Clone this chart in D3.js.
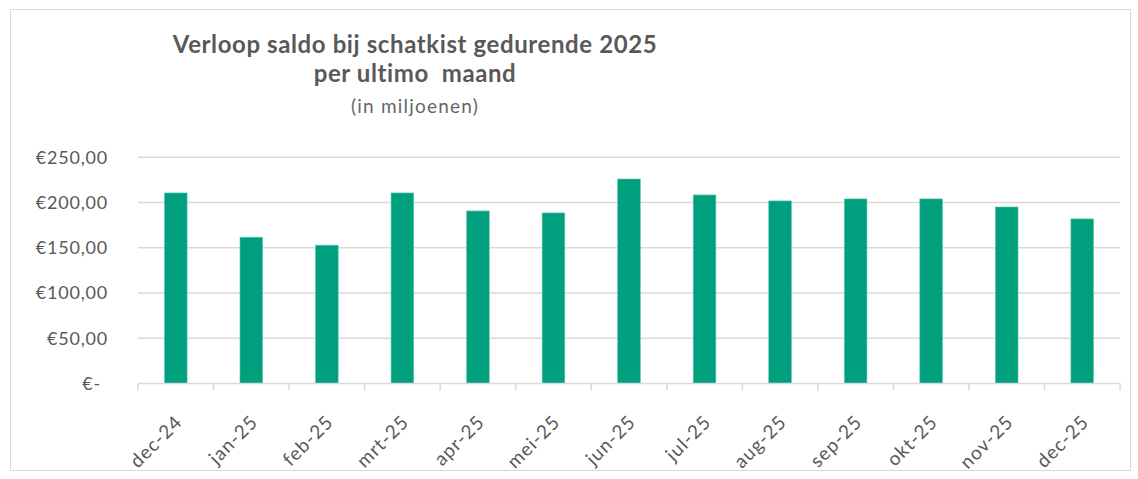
<!DOCTYPE html>
<html>
<head>
<meta charset="utf-8">
<script src="https://cdn.jsdelivr.net/npm/d3@7"></script>
<style>
  body { margin: 0; background: #fff; }
  svg text { font-family: Lato, "Open Sans", sans-serif; fill: #595959; white-space: pre; }
</style>
</head>
<body>
<svg id="chart" width="1138" height="479"></svg>
<script>
// maanden (categorieen)
var months = ["dec-24", "jan-25", "feb-25", "mrt-25", "apr-25", "mei-25", "jun-25",
              "jul-25", "aug-25", "sep-25", "okt-25", "nov-25", "dec-25"];
// saldo per ultimo maand, in miljoenen
var saldo = [210.6, 161.7, 152.9, 210.6, 190.7, 188.5, 226.0,
             208.4, 201.8, 204.0, 204.0, 195.1, 181.9];
var yTicks = [0, 50, 100, 150, 200, 250];
var titleLines = ["Verloop saldo bij schatkist gedurende 2025", "per ultimo  maand"];
var subTitle = "(in miljoenen)";

var data = months.map(function(m, i) { return { month: m, value: saldo[i] }; });

var svg = d3.select("#chart");
var gridColor = "#d9d9d9";
var barColor = "#00a07f";

// kader rond de grafiek
svg.append("rect")
  .attr("x", 10.5).attr("y", 9.5)
  .attr("width", 1120).attr("height", 461)
  .attr("fill", "#fff")
  .attr("stroke", gridColor);

var plotLeft = 138, plotRight = 1120, plotTop = 157.3, plotBottom = 383.5;

var x = d3.scaleBand()
  .domain(months)
  .range([plotLeft, plotRight])
  .paddingInner(0.7)
  .paddingOuter(0.35);

var y = d3.scaleLinear()
  .domain([0, 250])
  .range([plotBottom, plotTop]);

var nl = d3.formatLocale({ decimal: ",", thousands: ".", grouping: [3], currency: ["€", ""] });
var fmt = nl.format("$,.2f");

// gridlines
svg.append("g").selectAll("line")
  .data(yTicks.filter(function(d) { return d > 0; }))
  .enter().append("line")
  .attr("x1", plotLeft).attr("x2", plotRight)
  .attr("y1", function(d) { return y(d); })
  .attr("y2", function(d) { return y(d); })
  .attr("stroke", gridColor)
  .attr("stroke-width", 1.5);

// y labels
svg.append("g").selectAll("text")
  .data(yTicks)
  .enter().append("text")
  .attr("x", function(d) { return d === 0 ? 101 : 108; })
  .attr("y", function(d) { return y(d); })
  .attr("dy", "0.35em")
  .attr("text-anchor", "end")
  .style("font-size", "18px")
  .style("letter-spacing", "0.8px")
  .text(function(d) { return d === 0 ? "€-" : fmt(d); });

// bars
svg.append("g").selectAll("rect")
  .data(data)
  .enter().append("rect")
  .attr("x", function(d) { return x(d.month); })
  .attr("y", function(d) { return y(d.value); })
  .attr("width", x.bandwidth())
  .attr("height", function(d) { return y(0) - y(d.value); })
  .attr("fill", barColor)
  .attr("stroke", "#5fc8b0")
  .attr("stroke-width", 0.6);

// x axis line + ticks at band boundaries
var step = x.step();
var axis = svg.append("g");
axis.append("line")
  .attr("x1", plotLeft).attr("x2", plotRight)
  .attr("y1", plotBottom).attr("y2", plotBottom)
  .attr("stroke", gridColor)
  .attr("stroke-width", 1.5);
axis.selectAll("line.tick")
  .data(d3.range(months.length + 1))
  .enter().append("line")
  .attr("class", "tick")
  .attr("x1", function(i) { return plotLeft + i * step; })
  .attr("x2", function(i) { return plotLeft + i * step; })
  .attr("y1", plotBottom).attr("y2", plotBottom + 7)
  .attr("stroke", gridColor)
  .attr("stroke-width", 1.5);

// x labels, 45 graden gedraaid
axis.selectAll("text")
  .data(months)
  .enter().append("text")
  .attr("transform", function(d) {
    return "translate(" + (x(d) + x.bandwidth() / 2 + 3) + "," + (plotBottom + 35) + ") rotate(-45)";
  })
  .attr("text-anchor", "end")
  .attr("dy", "0.35em")
  .style("font-size", "19px")
  .style("letter-spacing", "1px")
  .text(function(d) { return d; });

// titel
var tg = svg.append("g");
tg.selectAll("text.t")
  .data(titleLines)
  .enter().append("text")
  .attr("class", "t")
  .attr("x", 415)
  .attr("y", function(d, i) { return 53 + i * 29; })
  .attr("text-anchor", "middle")
  .style("font-size", "24px")
  .style("font-weight", "bold")
  .style("letter-spacing", "0.6px")
  .text(function(d) { return d; });
tg.append("text")
  .attr("x", 415).attr("y", 113)
  .attr("text-anchor", "middle")
  .style("font-size", "19px")
  .style("letter-spacing", "1.2px")
  .style("fill", "#666")
  .text(subTitle);
</script>
</body>
</html>
